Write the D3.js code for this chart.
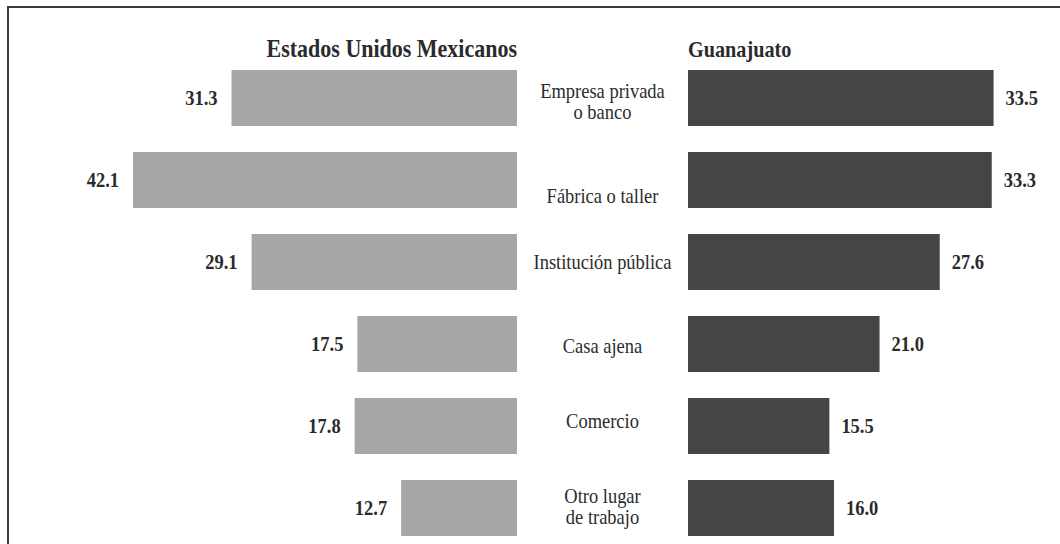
<!DOCTYPE html>
<html><head><meta charset="utf-8">
<script src="https://cdn.jsdelivr.net/npm/d3@7"></script>
<style>
html,body{margin:0;padding:0;background:#fff;overflow:hidden;}
svg{display:block;}
text{font-family:"Liberation Serif","Tinos","DejaVu Serif",serif;fill:#2b2b2b;}
</style></head>
<body>
<svg id="chart" width="1060" height="544"></svg>
<script>
const categories = [
  ["Empresa privada","o banco"],
  ["Fábrica o taller"],
  ["Institución pública"],
  ["Casa ajena"],
  ["Comercio"],
  ["Otro lugar","de trabajo"]
];
const nacional = [31.3, 42.1, 29.1, 17.5, 17.8, 12.7];
const guanajuato = [33.5, 33.3, 27.6, 21.0, 15.5, 16.0];
const seriesNames = ["Estados Unidos Mexicanos", "Guanajuato"];
const labelShift = [3, 16, 0, 2, -5, -2];

const svg = d3.select("#chart");
svg.append("rect").attr("x",8).attr("y",7).attr("width",1070).attr("height",560)
  .attr("fill","none").attr("stroke","#3a3a3a").attr("stroke-width",2);

const keys = categories.map((c,i)=>i);
const y = d3.scaleBand().domain(keys).range([57,549]).paddingInner(0.317).paddingOuter(0.1585);
const w = d3.scaleLinear().domain([0,42.1]).range([0,384]);
const leftEdge = 517, rightEdge = 688;
const SX = 0.88;

function label(x, yy, anchor, size, weight, lines, lh){
  const g = svg.append("g").attr("transform",`translate(${x},${yy}) scale(${SX},1)`);
  const t = g.append("text").attr("text-anchor",anchor).attr("font-size",size).attr("font-weight",weight);
  lines.forEach((ln,j)=>{
    t.append("tspan").attr("x",0).attr("y",(j-(lines.length-1)/2)*lh).text(ln);
  });
  return t;
}

svg.selectAll(".lb").data(nacional).join("rect")
  .attr("x",d=>leftEdge - w(d)).attr("y",(d,i)=>y(i))
  .attr("width",d=>w(d)).attr("height",y.bandwidth()).attr("fill","#a6a6a6");
nacional.forEach((d,i)=>label(leftEdge - w(d) - 14, y(i)+y.bandwidth()/2+7, "end", 21, "bold", [d.toFixed(1)], 0));

svg.selectAll(".rb").data(guanajuato).join("rect")
  .attr("x",rightEdge).attr("y",(d,i)=>y(i))
  .attr("width",d=>w(d)).attr("height",y.bandwidth()).attr("fill","#454545");
guanajuato.forEach((d,i)=>label(rightEdge + w(d) + 12, y(i)+y.bandwidth()/2+7, "start", 21, "bold", [d.toFixed(1)], 0));

const cx = (leftEdge + rightEdge)/2;
categories.forEach((lines,i)=>{
  label(cx, y(i)+y.bandwidth()/2 + labelShift[i] + 7, "middle", 21, "normal", lines, 21);
});

label(leftEdge, 57, "end", 25, "bold", [seriesNames[0]], 0);
label(rightEdge, 57, "start", 23, "bold", [seriesNames[1]], 0);
</script>
</body></html>
